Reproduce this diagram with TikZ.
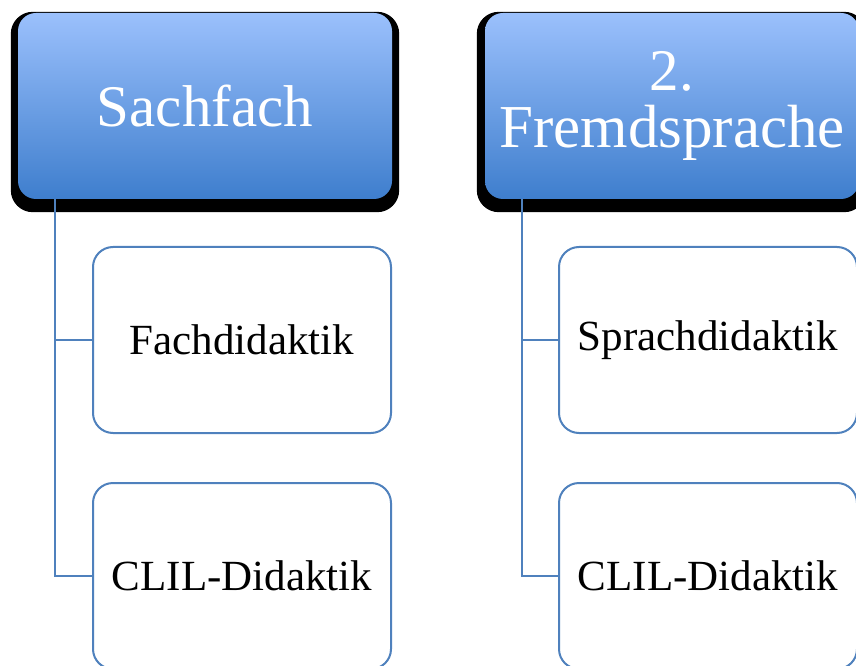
\documentclass[tikz,border=0pt]{standalone}
\usepackage{fontspec}
\setmainfont{Liberation Serif}
\usetikzlibrary{positioning}
\usetikzlibrary{backgrounds}
\definecolor{hdtop}{RGB}{155,192,252}
\definecolor{hdmid}{RGB}{130,170,236}
\definecolor{hdbot}{RGB}{62,126,205}
\definecolor{lnblue}{RGB}{79,129,189}

\tikzset{
  header/.style={rounded corners=18pt, minimum width=374pt, minimum height=186pt,
    inner sep=0pt, top color=hdtop, middle color=hdmid, bottom color=hdbot,
    text=white, align=center, font=\fontsize{59}{57}\selectfont},
  hshadow/.style={fill=black, rounded corners=22pt},
  subbox/.style={draw=lnblue, line width=2pt, rounded corners=20pt, fill=white,
    minimum width=298pt, minimum height=186pt, inner sep=0pt,
    font=\fontsize{43}{48}\selectfont},
  link/.style={draw=lnblue, line width=2pt}
}

\begin{document}
\begin{tikzpicture}[x=1pt, y=1pt]
  \useasboundingbox (0,0) rectangle (856,665);
  \clip (0,0) rectangle (856,665);

  % Headers
  \node[header] (sach) at (205,559) {Sachfach};
  \node[header] (fremd) at (672,559) {2.\\\fontsize{61}{57}\selectfont Fremdsprache};

  % Header shadows
  \begin{scope}[on background layer]
    \fill[hshadow] ([shift={(-7pt,-13pt)}]sach.south west) rectangle ([shift={(7pt,1pt)}]sach.north east);
    \fill[hshadow] ([shift={(-8pt,-13pt)}]fremd.south west) rectangle ([shift={(7pt,1pt)}]fremd.north east);
  \end{scope}

  % Left column
  \node[subbox] (fach) at (242,325) {Fachdidaktik};
  \node[subbox, below=48pt of fach] (clila) {CLIL-Didaktik};

  % Right column
  \node[subbox] (sprach) at (708,325) {Sprachdidaktik};
  \node[subbox, below=48pt of sprach] (clilb) {CLIL-Didaktik};

  % Connectors
  \draw[link] ([xshift=37pt]sach.south west) |- (fach.west);
  \draw[link] ([xshift=37pt]sach.south west) |- (clila.west);
  \draw[link] ([xshift=37pt]fremd.south west) |- (sprach.west);
  \draw[link] ([xshift=37pt]fremd.south west) |- (clilb.west);
\end{tikzpicture}
\end{document}
